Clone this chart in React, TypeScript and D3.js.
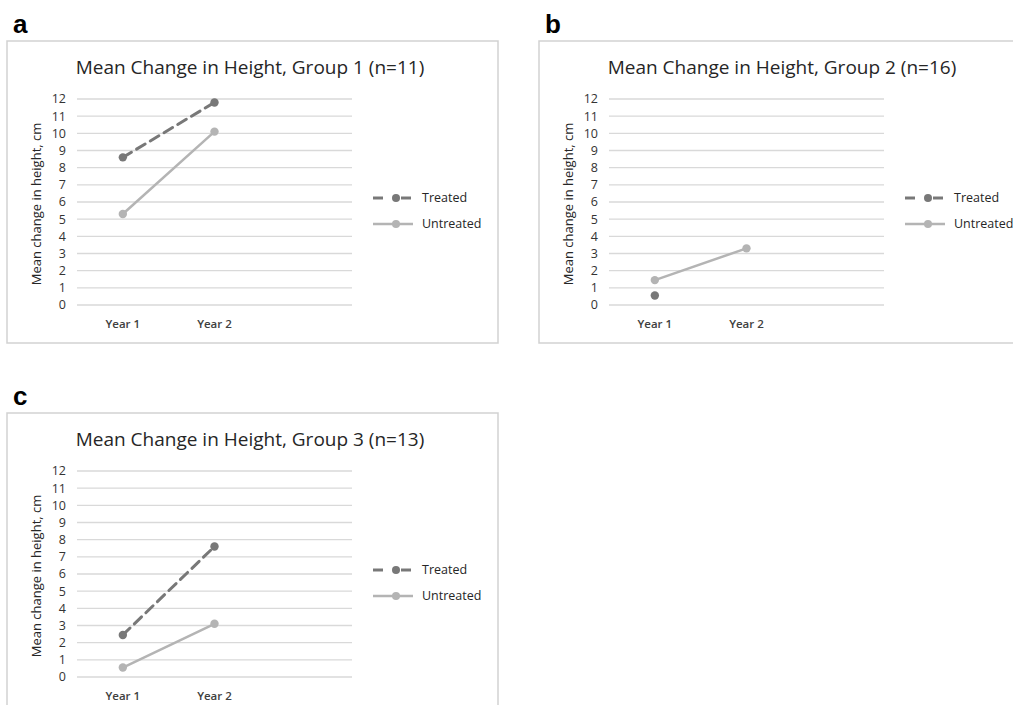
import React, { useEffect, useRef } from "react";
import * as d3 from "d3";

const categories = ["Year 1", "Year 2"];
const yTicks = [0, 1, 2, 3, 4, 5, 6, 7, 8, 9, 10, 11, 12];
const panelLabels = ["a", "b", "c"];
const titles = [
  "Mean Change in Height, Group 1 (n=11)",
  "Mean Change in Height, Group 2 (n=16)",
  "Mean Change in Height, Group 3 (n=13)",
];
const treated: (number | null)[][] = [
  [8.6, 11.8],
  [0.55, null],
  [2.45, 7.6],
];
const untreated: (number | null)[][] = [
  [5.3, 10.1],
  [1.45, 3.3],
  [0.55, 3.1],
];
const seriesNames = ["Treated", "Untreated"];

const W = 1013;
const H = 705;

export default function App() {
  const ref = useRef<SVGSVGElement>(null);

  useEffect(() => {
    const svg = d3.select(ref.current);
    svg.selectAll("*").remove();

    const origins = [
      [7, 41],
      [539, 41],
      [7, 413],
    ];
    const frameW = 491;
    const frameH = 302;
    const plot = { left: 70, right: 345, top: 58, bottom: 264 };
    const font = "'Open Sans', sans-serif";
    const styles = [
      { color: "#787878", dash: "10,6", width: 3 },
      { color: "#b4b4b4", dash: null, width: 2.5 },
    ];

    const x = d3
      .scaleBand<string>()
      .domain([...categories, ""])
      .range([plot.left, plot.right]);
    const y = d3
      .scaleLinear()
      .domain([0, 12])
      .range([plot.bottom, plot.top]);

    origins.forEach(([ox, oy], i) => {
      const g = svg.append("g").attr("transform", `translate(${ox},${oy})`);

      g.append("rect")
        .attr("width", frameW)
        .attr("height", frameH)
        .attr("fill", "#fff")
        .attr("stroke", "#d2d2d2")
        .attr("stroke-width", 1.5);

      svg
        .append("text")
        .attr("x", ox + 6)
        .attr("y", oy - 8)
        .attr("font-family", "'Liberation Sans', Arial, sans-serif")
        .attr("font-weight", "700")
        .attr("font-size", 26)
        .attr("fill", "#000")
        .text(panelLabels[i]);

      g.append("text")
        .attr("x", 243)
        .attr("y", 33)
        .attr("text-anchor", "middle")
        .attr("font-family", font)
        .attr("font-size", 19)
        .attr("fill", "#262626")
        .text(titles[i]);

      // grid
      g.append("g")
        .selectAll("line")
        .data(yTicks)
        .join("line")
        .attr("x1", plot.left)
        .attr("x2", plot.right)
        .attr("y1", (d) => y(d))
        .attr("y2", (d) => y(d))
        .attr("stroke", "#d9d9d9")
        .attr("stroke-width", 1.3);

      g.append("g")
        .selectAll("text")
        .data(yTicks)
        .join("text")
        .attr("x", plot.left - 11)
        .attr("y", (d) => y(d))
        .attr("dy", "0.35em")
        .attr("text-anchor", "end")
        .attr("font-family", font)
        .attr("font-size", 12.5)
        .attr("fill", "#333")
        .text((d) => d);

      g.append("g")
        .selectAll("text")
        .data(categories)
        .join("text")
        .attr("x", (d) => x(d)! + x.bandwidth() / 2)
        .attr("y", 287)
        .attr("text-anchor", "middle")
        .attr("font-family", font)
        .attr("font-size", 11.5)
        .attr("font-weight", "600")
        .attr("fill", "#404040")
        .text((d) => d);

      g.append("text")
        .attr("transform", `translate(34, ${(plot.top + plot.bottom) / 2 + 2}) rotate(-90)`)
        .attr("text-anchor", "middle")
        .attr("font-family", font)
        .attr("font-size", 13)
        .attr("fill", "#262626")
        .text("Mean change in height, cm");

      // series
      [treated[i], untreated[i]].forEach((vals, s) => {
        const st = styles[s];
        const pts = categories.map((c, k) => ({ c, v: vals[k] }));
        const line = d3
          .line<{ c: string; v: number | null }>()
          .defined((d) => d.v != null)
          .x((d) => x(d.c)! + x.bandwidth() / 2)
          .y((d) => y(d.v as number));
        g.append("path")
          .datum(pts)
          .attr("d", line)
          .attr("fill", "none")
          .attr("stroke", st.color)
          .attr("stroke-width", st.width)
          .attr("stroke-dasharray", st.dash)
          .attr("stroke-linecap", "round");
        g.append("g")
          .selectAll("circle")
          .data(pts.filter((d) => d.v != null))
          .join("circle")
          .attr("cx", (d) => x(d.c)! + x.bandwidth() / 2)
          .attr("cy", (d) => y(d.v as number))
          .attr("r", 4.2)
          .attr("fill", st.color);

        // legend
        const ly = 157 + s * 26;
        if (st.dash) {
          g.append("line")
            .attr("x1", 366).attr("x2", 376).attr("y1", ly).attr("y2", ly)
            .attr("stroke", st.color).attr("stroke-width", st.width);
          g.append("line")
            .attr("x1", 394).attr("x2", 404).attr("y1", ly).attr("y2", ly)
            .attr("stroke", st.color).attr("stroke-width", st.width);
        } else {
          g.append("line")
            .attr("x1", 366).attr("x2", 406).attr("y1", ly).attr("y2", ly)
            .attr("stroke", st.color).attr("stroke-width", st.width);
        }
        g.append("circle")
          .attr("cx", 389)
          .attr("cy", ly)
          .attr("r", 4)
          .attr("fill", st.color);
        g.append("text")
          .attr("x", 415)
          .attr("y", ly)
          .attr("dy", "0.35em")
          .attr("font-family", font)
          .attr("font-size", 12.5)
          .attr("fill", "#262626")
          .text(seriesNames[s]);
      });
    });
  }, []);

  return (
    <svg
      ref={ref}
      width={W}
      height={H}
      style={{ position: "absolute", left: 0, top: 0, background: "#fff" }}
    />
  );
}
